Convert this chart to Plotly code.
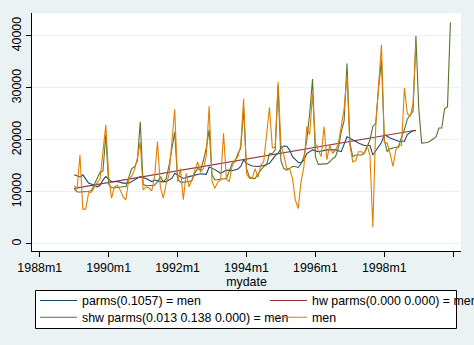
import plotly.graph_objects as go

# Stata monthly date units (months since 1960m1); 1989m1 = 348
START = 348

# observed series "men", 1989m1 .. 1998m12
men = [
    11200, 10500, 17100, 6700, 6700, 9800, 10000, 11000, 11800, 12500, 18000, 22900,
    13000, 8800, 11000, 11300, 10400, 9100, 8500, 12500, 13000, 14300, 16500, 19600,
    10400, 11000, 10800, 10200, 13000, 19700, 11000, 8800, 11500, 13300, 19500, 25900,
    12000, 14500, 8500, 13600, 11000, 12300, 14200, 15800, 13800, 14500, 17000, 26500,
    12000, 10700, 11900, 12300, 21300, 12500, 12000, 15000, 16200, 16800, 19000, 27900,
    13500, 12600, 12600, 14500, 12800, 15200, 15800, 20600, 26300, 18500, 18600, 31200,
    19000, 17100, 14500, 14500, 12600, 8500, 6800, 12000, 14900, 22600, 21000, 29000,
    19400, 18000, 16800, 22600, 16200, 19000, 17500, 18000, 19400, 22600, 26000, 32500,
    19000, 15800, 16000, 17750, 17750, 17400, 19000, 17000, 3200, 22600, 30000, 38300,
    19500, 19400, 17400, 14900, 18100, 19000, 19000, 30000, 25100, 24500, 27000, 38600,
]

# seasonal Holt-Winters fit + forecast, 1989m1 .. 1999m12
shw = [
    10600, 10000, 10000, 10000, 10000, 10100, 10300, 11500, 12500, 13800, 14000, 21000,
    11500, 10800, 10800, 10900, 10900, 11000, 11000, 13000, 14500, 14800, 16000, 23500,
    11500, 11200, 11200, 11200, 11300, 12000, 12900, 12000, 12500, 15000, 18000, 21500,
    12500, 11900, 11900, 11900, 12000, 12200, 13600, 14500, 14200, 16100, 18500, 22000,
    13300, 12300, 12400, 12500, 12600, 12600, 14000, 15500, 15800, 17400, 18400, 26000,
    14500, 12950, 12600, 12600, 13500, 14200, 14900, 15200, 17400, 17400, 18100, 30500,
    16000, 14500, 14200, 14500, 14900, 14900, 14700, 15500, 16800, 20000, 25100, 31700,
    16800, 15300, 15400, 15400, 15400, 15800, 16400, 16800, 18500, 21600, 23700, 34700,
    19500, 16800, 17100, 17100, 17100, 17400, 18800, 20000, 22600, 23200, 30000, 35400,
    20000, 17800, 18300, 18500, 18600, 18600, 20600, 22000, 24000, 24800, 25500, 40000,
    26000, 19400, 19400, 19500, 19800, 20200, 20600, 22300, 22300, 26000, 26400, 42600,
]

# single exponential smoothing, read at these months (offset from 1989m1)
blue_months = [0, 2, 3, 4, 5, 7, 8, 9, 10, 11, 12, 13, 15, 17, 19, 20, 21, 23, 25, 27,
               28, 30, 32, 34, 35, 36, 38, 40, 44, 46, 47, 49, 51, 53, 55, 57, 58, 59,
               60, 62, 64, 66, 68, 70, 71, 72, 73, 74, 75, 76, 78, 79, 80, 81, 82, 83,
               85, 88, 91, 93, 95, 97, 99, 101, 103, 104, 107, 108, 110, 113, 115, 116,
               118, 119]
blue_vals = [13300, 12900, 13300, 12500, 11700, 11300, 11000, 11300, 12300, 12950, 12500,
             12000, 12000, 11700, 11700, 12000, 12300, 12950, 12600, 12000, 12300, 12000,
             12000, 12600, 13600, 13300, 12600, 12950, 13500, 13400, 14800, 14300, 13600,
             14200, 14100, 14400, 14900, 16150, 15500, 15000, 14900, 15100, 15500, 17000,
             17400, 18400, 18850, 18800, 18100, 16800, 15700, 15600, 16150, 17400, 17750,
             18100, 17750, 18100, 18100, 17750, 20600, 19950, 19400, 18950, 18950, 17100,
             19500, 21050, 20400, 19750, 19750, 21050, 21800, 21800]

# non-seasonal Holt-Winters (linear trend), read at these months
red_months = [0, 30, 84, 119]
red_vals = [10700, 13550, 18650, 21860]

x_tick_vals = [336, 360, 384, 408, 432, 456, 480]
x_tick_text = ["1988m1", "1990m1", "1992m1", "1994m1", "1996m1", "1998m1", "2000m1"]
y_tick_vals = [0, 10000, 20000, 30000, 40000]
y_tick_text = ["0", "10000", "20000", "30000", "40000"]

names = ["parms(0.1057) = men", "hw parms(0.000 0.000) = men",
         "shw parms(0.013 0.138 0.000) = men", "men"]
colors = ["#1A476F", "#90353B", "#55752F", "#E37E00"]

FONT = "Arial, Liberation Sans, sans-serif"
FS = 12.4
LW = 1.1

fig = go.Figure()
fig.add_trace(go.Scatter(x=[START + m for m in blue_months], y=blue_vals, mode="lines",
                         name=names[0], line=dict(color=colors[0], width=LW), legend="legend"))
fig.add_trace(go.Scatter(x=[START + m for m in red_months], y=red_vals, mode="lines",
                         name=names[1], line=dict(color=colors[1], width=LW), legend="legend2"))
fig.add_trace(go.Scatter(x=[START + i for i in range(len(shw))], y=shw, mode="lines",
                         name=names[2], line=dict(color=colors[2], width=LW), legend="legend3"))
fig.add_trace(go.Scatter(x=[START + i for i in range(len(men))], y=men, mode="lines",
                         name=names[3], line=dict(color=colors[3], width=LW), legend="legend4"))

W, H = 474, 345
L, R, T, B = 32, 13, 13, 94
pw, ph = W - L - R, H - T - B


def px2x(px):
    return (px - L) / pw


def py2y(py):
    return (H - B - py) / ph


leg_common = dict(bgcolor="rgba(0,0,0,0)", borderwidth=0, itemwidth=37,
                  font=dict(family=FONT, size=FS, color="black"),
                  xanchor="left", yanchor="middle", orientation="v")

fig.update_layout(
    width=W, height=H,
    margin=dict(l=L, r=R, t=T, b=B, autoexpand=False),
    paper_bgcolor="#EAF2F3",
    plot_bgcolor="white",
    font=dict(family=FONT, size=FS, color="black"),
    showlegend=True,
    legend=dict(x=px2x(35), y=py2y(301), **leg_common),
    legend2=dict(x=px2x(265), y=py2y(301), **leg_common),
    legend3=dict(x=px2x(35), y=py2y(317.7), **leg_common),
    legend4=dict(x=px2x(265), y=py2y(317.7), **leg_common),
    xaxis=dict(range=[333.3, 482.7], tickmode="array", tickvals=x_tick_vals,
               ticktext=x_tick_text, showgrid=False, zeroline=False,
               showline=True, linecolor="black", linewidth=1,
               ticks="outside", ticklen=5, tickcolor="black", tickwidth=1,
               tickfont=dict(family=FONT, size=FS, color="black"),
               title=dict(text="mydate", font=dict(family=FONT, size=FS, color="black"),
                          standoff=0),
               automargin=False),
    yaxis=dict(range=[-1350, 44420], tickmode="array", tickvals=y_tick_vals,
               ticktext=y_tick_text,
               showgrid=True, gridcolor="#EAF2F3", gridwidth=1, zeroline=False,
               showline=True, linecolor="black", linewidth=1,
               ticks="outside", ticklen=5, tickcolor="black", tickwidth=1,
               tickangle=-90, tickfont=dict(family=FONT, size=FS, color="black"),
               automargin=False),
    shapes=[dict(type="rect", xref="paper", yref="paper",
                 x0=px2x(35.5), x1=px2x(456.5), y0=py2y(290.5), y1=py2y(328.5),
                 line=dict(color="black", width=1), fillcolor="white", layer="below")],
)

fig.write_html("out.html")
